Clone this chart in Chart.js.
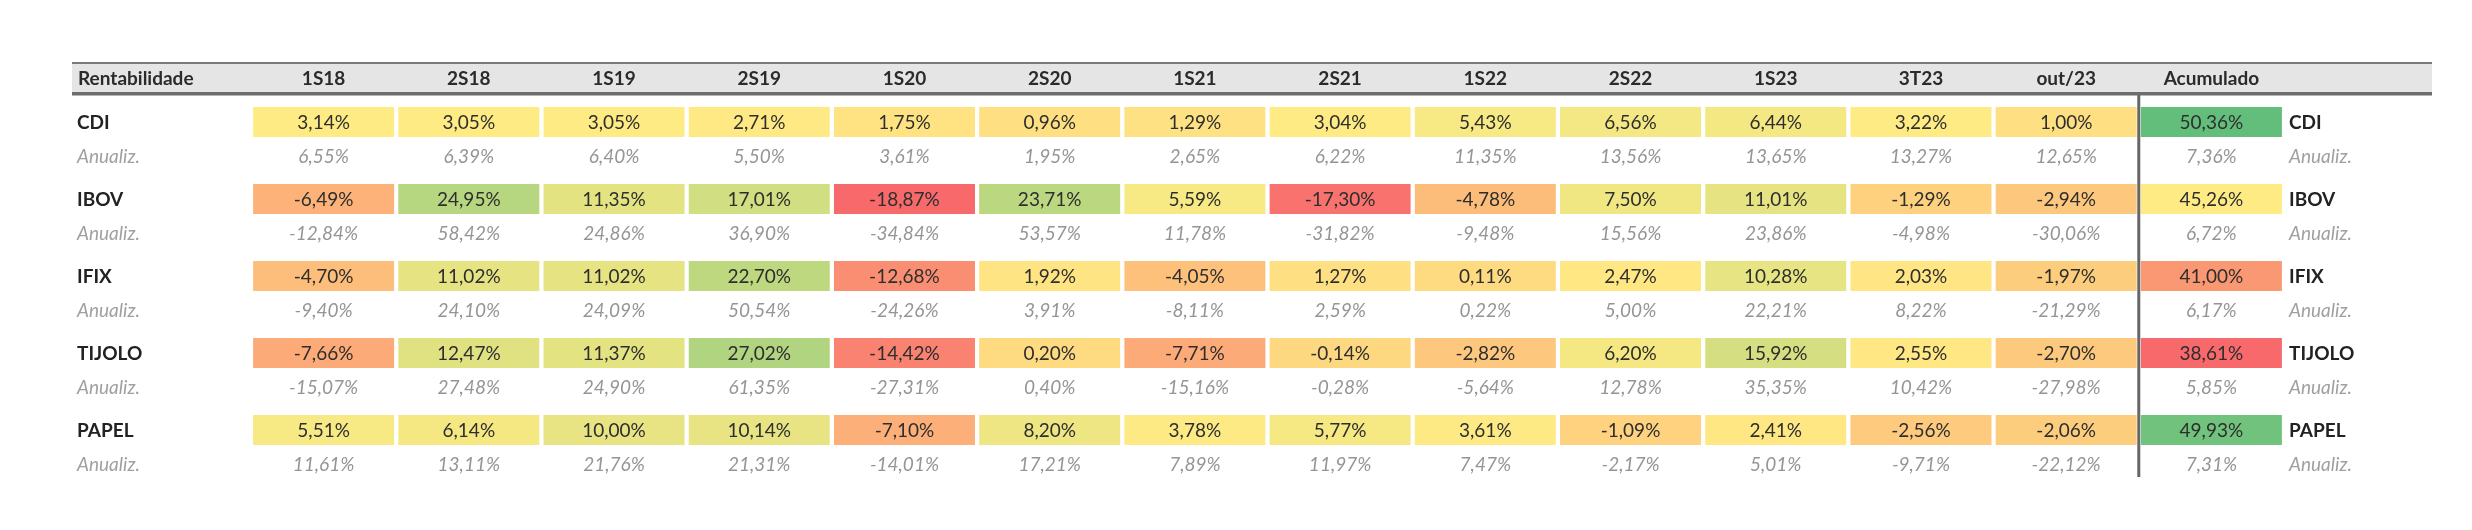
<!DOCTYPE html>
<html>
<head>
<meta charset="utf-8">
<script src="https://cdn.jsdelivr.net/npm/chart.js@4.4.0/dist/chart.umd.min.js"></script>
<style>
  html, body { margin: 0; padding: 0; background: #fff; }
  #wrap { position: relative; width: 2472px; height: 530px; }
</style>
</head>
<body>
<div id="wrap"><canvas id="heat"></canvas></div>
<script>
// column labels
const periods = ["1S18", "2S18", "1S19", "2S19", "1S20", "2S20", "1S21", "2S21", "1S22", "2S22", "1S23", "3T23", "out/23", "Acumulado"];
const assets = ["CDI", "IBOV", "IFIX", "TIJOLO", "PAPEL"];

// returns per period (last value = accumulated)
const cdi    = [3.14, 3.05, 3.05, 2.71, 1.75, 0.96, 1.29, 3.04, 5.43, 6.56, 6.44, 3.22, 1.00, 50.36];
const ibov   = [-6.49, 24.95, 11.35, 17.01, -18.87, 23.71, 5.59, -17.30, -4.78, 7.50, 11.01, -1.29, -2.94, 45.26];
const ifix   = [-4.70, 11.02, 11.02, 22.70, -12.68, 1.92, -4.05, 1.27, 0.11, 2.47, 10.28, 2.03, -1.97, 41.00];
const tijolo = [-7.66, 12.47, 11.37, 27.02, -14.42, 0.20, -7.71, -0.14, -2.82, 6.20, 15.92, 2.55, -2.70, 38.61];
const papel  = [5.51, 6.14, 10.00, 10.14, -7.10, 8.20, 3.78, 5.77, 3.61, -1.09, 2.41, -2.56, -2.06, 49.93];

// annualized
const cdiAnual    = [6.55, 6.39, 6.40, 5.50, 3.61, 1.95, 2.65, 6.22, 11.35, 13.56, 13.65, 13.27, 12.65, 7.36];
const ibovAnual   = [-12.84, 58.42, 24.86, 36.90, -34.84, 53.57, 11.78, -31.82, -9.48, 15.56, 23.86, -4.98, -30.06, 6.72];
const ifixAnual   = [-9.40, 24.10, 24.09, 50.54, -24.26, 3.91, -8.11, 2.59, 0.22, 5.00, 22.21, 8.22, -21.29, 6.17];
const tijoloAnual = [-15.07, 27.48, 24.90, 61.35, -27.31, 0.40, -15.16, -0.28, -5.64, 12.78, 35.35, 10.42, -27.98, 5.85];
const papelAnual  = [11.61, 13.11, 21.76, 21.31, -14.01, 17.21, 7.89, 11.97, 7.47, -2.17, 5.01, -9.71, -22.12, 7.31];

const returns = [cdi, ibov, ifix, tijolo, papel];
const annual = [cdiAnual, ibovAnual, ifixAnual, tijoloAnual, papelAnual];

// excel-like 3 colour scale (min / 50th percentile / max)
const RED = [248, 105, 107], YELLOW = [255, 235, 132], GREEN = [99, 190, 123];

function percentile(arr, p) {
  const s = [...arr].sort((a, b) => a - b);
  const pos = (s.length - 1) * p;
  const lo = Math.floor(pos), hi = Math.ceil(pos);
  return s[lo] + (s[hi] - s[lo]) * (pos - lo);
}
function mix(a, b, t) {
  return "rgb(" + a.map((v, i) => Math.round(v + (b[i] - v) * t)).join(",") + ")";
}
function makeScale(values) {
  const min = Math.min(...values), max = Math.max(...values), mid = percentile(values, 0.5);
  return v => v <= mid ? mix(RED, YELLOW, (v - min) / (mid - min || 1))
                       : mix(YELLOW, GREEN, (v - mid) / (max - mid || 1));
}
const lastCol = periods.length - 1;
const allScale = makeScale(returns.flat());
const accScale = makeScale(returns.map(r => r[lastCol]));

const fmt = v => v.toFixed(2).replace(".", ",") + "%";

const FONT = "Lato";
const SIZE = 19;
const CELL_TOP = 0.09, CELL_BOTTOM = 0.48, ANNUAL_MID = 0.74;

const datasets = returns.map((row, r) => ({
  label: assets[r],
  data: row.map(() => [r + CELL_TOP, r + CELL_BOTTOM]),
  backgroundColor: row.map((v, c) => c === lastCol ? accScale(v) : allScale(v)),
  borderWidth: 0,
  grouped: false,
  categoryPercentage: 1,
  barPercentage: 0.971
}));

const tablePlugin = {
  id: "tableDeco",
  beforeDatasetsDraw(chart) {
    const { ctx, chartArea } = chart;
    const x = chart.scales.x;
    ctx.save();
    // header band
    const hx0 = chartArea.left - 179, hx1 = chartArea.right + 148;
    ctx.fillStyle = "#e5e5e5";
    ctx.fillRect(hx0, 63, hx1 - hx0, 30);
    ctx.fillStyle = "#7a7a7a";
    ctx.fillRect(hx0, 62, hx1 - hx0, 2);
    ctx.fillStyle = "#6e6e6e";
    ctx.fillRect(hx0, 92, hx1 - hx0, 3);
    ctx.fillStyle = "#b5b5b5";
    ctx.fillRect(hx0, 95, hx1 - hx0, 1);
    // header text
    ctx.fillStyle = "#2b2b2b";
    ctx.font = "bold " + SIZE + "px " + FONT;
    ctx.textBaseline = "middle";
    ctx.textAlign = "left";
    ctx.fillText("Rentabilidade", hx0 + 6, 79);
    ctx.textAlign = "center";
    periods.forEach((p, i) => ctx.fillText(p, x.getPixelForValue(i), 79));
    ctx.restore();
  },
  afterDatasetsDraw(chart) {
    const { ctx, chartArea } = chart;
    const x = chart.scales.x, y = chart.scales.y;
    ctx.save();
    ctx.textBaseline = "middle";
    returns.forEach((row, r) => {
      const yVal = y.getPixelForValue(r + (CELL_TOP + CELL_BOTTOM) / 2);
      const yAn = y.getPixelForValue(r + ANNUAL_MID);
      // values
      ctx.textAlign = "center";
      row.forEach((v, c) => {
        ctx.font = SIZE + "px " + FONT;
        ctx.fillStyle = "#2e2e2e";
        ctx.fillText(fmt(v), x.getPixelForValue(c), yVal + 1);
        ctx.font = "italic " + SIZE + "px " + FONT;
        ctx.fillStyle = "#959595";
        ctx.fillText(fmt(annual[r][c]), x.getPixelForValue(c), yAn);
      });
      // labels left and right
      const leftX = chartArea.left - 174;
      const rightX = chartArea.right + 5;
      ctx.textAlign = "left";
      ctx.font = "bold " + SIZE + "px " + FONT;
      ctx.fillStyle = "#222";
      ctx.fillText(assets[r], leftX, yVal + 1);
      ctx.fillText(assets[r], rightX, yVal + 1);
      ctx.font = "italic " + SIZE + "px " + FONT;
      ctx.fillStyle = "#a0a0a0";
      ctx.fillText("Anualiz.", leftX, yAn);
      ctx.fillText("Anualiz.", rightX, yAn);
    });
    // separator before accumulated column
    const sx = (x.getPixelForValue(lastCol - 1) + x.getPixelForValue(lastCol)) / 2;
    ctx.fillStyle = "#666";
    ctx.fillRect(sx - 1.5, 95, 3, chartArea.bottom - 8 - 95);
    ctx.restore();
  }
};

new Chart(document.getElementById("heat"), {
  type: "bar",
  data: { labels: periods, datasets },
  options: {
    responsive: true,
    maintainAspectRatio: false,
    animation: false,
    layout: { padding: { left: 251, right: 188, top: 100, bottom: 45 } },
    plugins: { legend: { display: false }, tooltip: { enabled: false } },
    scales: {
      x: { type: "category", offset: true, display: false, grid: { display: false } },
      y: { type: "linear", min: 0, max: assets.length, reverse: true, display: false }
    }
  },
  plugins: [tablePlugin]
});
</script>
</body>
</html>
